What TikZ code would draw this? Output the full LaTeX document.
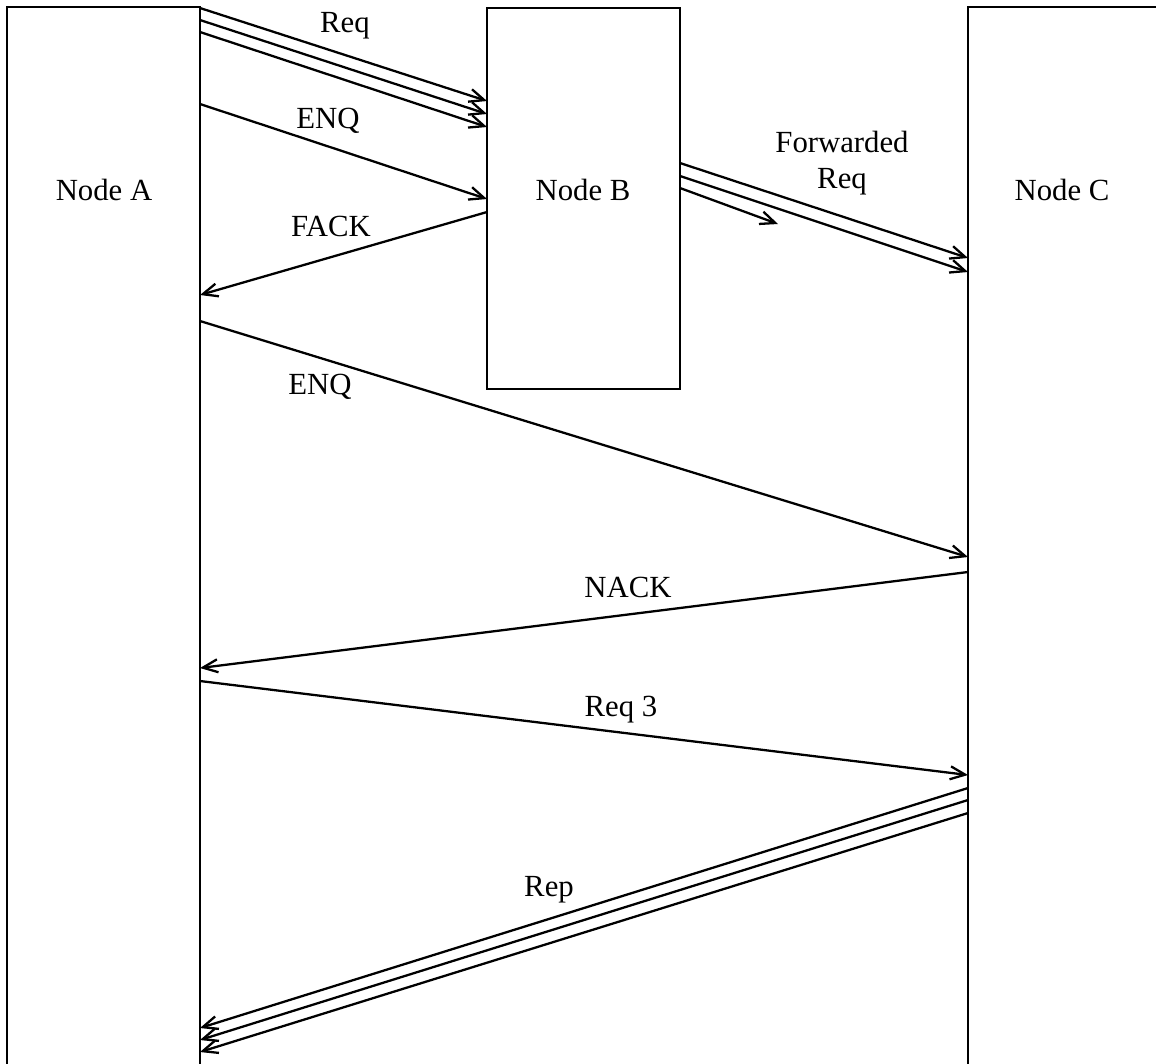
\documentclass[tikz,border=0pt]{standalone}
\usepackage{fontspec}
\setmainfont{Liberation Serif}
\usetikzlibrary{arrows.meta}

\begin{document}
\begin{tikzpicture}[x=0.02cm, y=-0.02cm,
    box/.style={draw, line width=1.3pt, inner sep=0pt, outer sep=0pt},
    msg/.style={line width=1.3pt, -{Straight Barb[length=3mm, width=2.6mm, line width=1.3pt]}},
    lbl/.style={font=\fontsize{17.5}{20}\selectfont, inner sep=0pt, anchor=base}]
        \useasboundingbox (0,0) rectangle (1156,1063);
        \clip (0,0) rectangle (1156,1063);

        % Draw nodes
        \node[box, minimum width=3.86cm, minimum height=21.46cm] (A) at (103.5,543.5) {};
        \node[box, minimum width=3.86cm, minimum height=7.62cm] (B) at (583.5,198.5) {};
        \node[box, minimum width=4.04cm, minimum height=21.46cm] (C) at (1069,543.5) {};
        \node[lbl] (labA) at (104,200) {Node A};
        \node[lbl] (labB) at (583,200) {Node B};
        \node[lbl] (labC) at (1062,200) {Node C};

        % Requests from A to B
        \draw[msg] (A.east |- 0,8) -- (B.west |- 0,101);
        \draw[msg] (A.east |- 0,20) -- (B.west |- 0,114);
        \draw[msg] (A.east |- 0,32) -- (B.west |- 0,127);
        \node[lbl] (req1) at (345,32) {Req};
        \draw[msg] (A.east |- 0,104) -- (B.west |- 0,199);
        \node[lbl] (enq1) at (328,128) {ENQ};
        \draw[msg] (B.west |- 0,212) -- (A.east |- 0,295);
        \node[lbl] (fack) at (331,236) {FACK};

        % Forwarded requests from B to C
        \draw[msg] (B.east |- 0,163) -- (C.west |- 0,258);
        \draw[msg] (B.east |- 0,176) -- (C.west |- 0,272);
        \draw[msg] (B.east |- 0,188) -- (778,224);
        \node[lbl, align=center] (fwd) at (842,188) {Forwarded\\Req};

        % Messages between A and C
        \draw[msg] (A.east |- 0,321) -- (C.west |- 0,557);
        \node[lbl] (enq2) at (320,394) {ENQ};
        \draw[msg] (C.west |- 0,572) -- (A.east |- 0,668);
        \node[lbl] (nack) at (628,597) {NACK};
        \draw[msg] (A.east |- 0,681) -- (C.west |- 0,775);
        \node[lbl] (req3) at (621,716) {Req 3};

        % Replies from C to A
        \draw[msg] (C.west |- 0,788) -- (A.east |- 0,1028);
        \draw[msg] (C.west |- 0,800) -- (A.east |- 0,1040);
        \draw[msg] (C.west |- 0,813) -- (A.east |- 0,1052);
        \node[lbl] (rep) at (549,896) {Rep};
    \end{tikzpicture}
\end{document}
